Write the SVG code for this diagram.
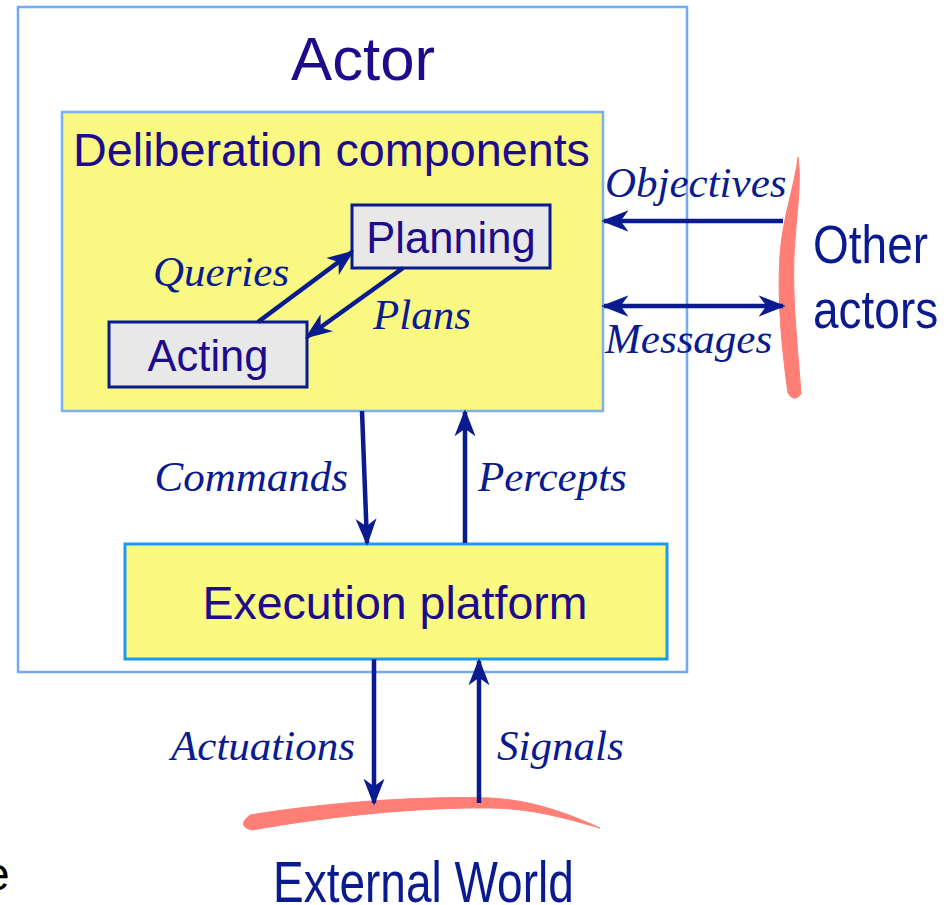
<svg xmlns="http://www.w3.org/2000/svg" width="951" height="905" viewBox="0 0 951 905">
<defs>
<marker id="ahs" viewBox="0 0 10 10" refX="9" refY="5" markerWidth="27" markerHeight="27" orient="auto-start-reverse" markerUnits="userSpaceOnUse">
<path d="M0,1.1 L10,5 L0,8.9 L2.8,5 Z" fill="#0a1a8f"/>
</marker>
<style>
.sans{font-family:"Liberation Sans",Arial,sans-serif}
.ital{font-family:"Liberation Serif","Times New Roman",serif;font-style:italic;fill:#0a1a8f;font-size:43px}
.ind{fill:#1e0b8c}
.navy{fill:#0a1a8f}
.arr{stroke:#0a1a8f;stroke-width:4.5;fill:none;marker-end:url(#ahs)}
.brush{fill:#ff7f77;stroke:#ff7f77;stroke-width:1}
.inner{fill:#e8e8e8;stroke:#0a1a8f;stroke-width:3}
</style>
</defs>

<g id="actor">
<rect x="18" y="7" width="669" height="665" fill="#ffffff" stroke="#72aaf2" stroke-width="2.5"/>
<text class="sans ind" x="363" y="80" font-size="62" text-anchor="middle" textLength="144" lengthAdjust="spacingAndGlyphs">Actor</text>
</g>

<g id="deliberation">
<rect x="62" y="112" width="541" height="299" fill="#f8f882" stroke="#7ab0f0" stroke-width="2.5"/>
<text class="sans ind" x="73" y="166" font-size="46.5" textLength="517" lengthAdjust="spacingAndGlyphs">Deliberation components</text>
</g>

<g id="planning">
<rect class="inner" x="352" y="205" width="198" height="63"/>
<text class="sans ind" x="451" y="253" font-size="43.5" text-anchor="middle">Planning</text>
</g>

<g id="acting">
<rect class="inner" x="109" y="322" width="198" height="65"/>
<text class="sans ind" x="208" y="371" font-size="43.5" text-anchor="middle">Acting</text>
</g>

<g id="execution">
<rect x="125" y="544" width="542" height="115" fill="#fafa80" stroke="#1a9af0" stroke-width="3"/>
<text class="sans ind" x="395" y="619" font-size="46.5" text-anchor="middle">Execution platform</text>
</g>

<g id="other-actors">
<path class="brush" d="M798,157 C795,185 783,215 780,255 C777,300 782,350 788,393 Q794,403 801,394 C798,350 792,300 794,255 C796,215 802,185 798,157 Z"/>
<text class="sans navy" transform="translate(813,263) scale(1,1.15)" x="0" y="0" font-size="46">Other</text>
<text class="sans navy" transform="translate(813,328) scale(1,1.15)" x="0" y="0" font-size="46">actors</text>
</g>

<g id="external-world">
<path class="brush" d="M250,815 C330,802 420,796 490,798 C530,800 565,812 600,828 C565,818 530,808 490,808 C420,807 330,816 252,830 Q236,826 250,815 Z"/>
<text class="sans navy" transform="translate(273,902) scale(1,1.26)" x="0" y="0" font-size="46">External World</text>
</g>

<g id="connectors">
<line class="arr" x1="258" y1="322" x2="352" y2="252"/>
<line class="arr" x1="403" y1="268" x2="307" y2="337"/>
<line class="arr" x1="783" y1="221" x2="604" y2="221"/>
<line class="arr" x1="783" y1="306" x2="604" y2="306" style="marker-start:url(#ahs)"/>
<line class="arr" x1="362" y1="411" x2="367" y2="543"/>
<line class="arr" x1="465" y1="543" x2="465" y2="412"/>
<line class="arr" x1="374" y1="659" x2="374" y2="803"/>
<line class="arr" x1="479" y1="803" x2="479" y2="661"/>
</g>

<g id="labels">
<text class="ital" x="153" y="286">Queries</text>
<text class="ital" x="373" y="329">Plans</text>
<text class="ital" x="605" y="197">Objectives</text>
<text class="ital" x="605" y="353">Messages</text>
<text class="ital" x="348" y="491" text-anchor="end">Commands</text>
<text class="ital" x="478" y="491">Percepts</text>
<text class="ital" x="355" y="760" text-anchor="end">Actuations</text>
<text class="ital" x="497" y="760">Signals</text>
</g>

<text x="-16" y="890" font-family="Liberation Sans, Arial, sans-serif" font-size="46" fill="#000000">e</text>
</svg>
